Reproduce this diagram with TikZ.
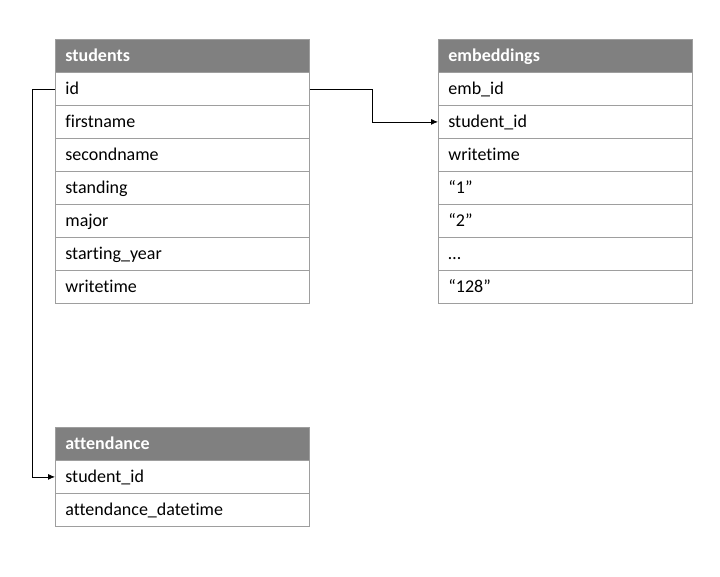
\documentclass[tikz,border=0pt]{standalone}
\usepackage{fontspec}
\setmainfont[Ligatures=NoCommon]{Carlito}
\usetikzlibrary{arrows.meta}
\begin{document}
\begin{tikzpicture}[x=1pt,y=-1pt,
  cell/.style={draw=black!38, line width=0.8pt, fill=white, minimum width=254pt, minimum height=33pt,
    text width=234pt, text height=14.5pt, text depth=2.5pt, align=left, inner xsep=10pt, inner ysep=0pt,
    anchor=north west, font=\fontsize{18}{21}\selectfont},
  head/.style={cell, fill=black!50, text=white, font=\fontsize{18}{21}\selectfont\bfseries},
  conn/.style={line width=0.8pt, draw=black, -{Latex[length=7pt,width=6pt]}}]
\useasboundingbox (0,0) rectangle (720,576);
% students
\node[head] (st)  at (55,39)  {students};
\node[cell] (st1) at (55,72)  {id};
\node[cell] (st2) at (55,105) {firstname};
\node[cell] (st3) at (55,138) {secondname};
\node[cell] (st4) at (55,171) {standing};
\node[cell] (st5) at (55,204) {major};
\node[cell] (st6) at (55,237) {starting\_year};
\node[cell] (st7) at (55,270) {writetime};
% embeddings
\node[head] (em)  at (438,39)  {embeddings};
\node[cell] (em1) at (438,72)  {emb\_id};
\node[cell] (em2) at (438,105) {student\_id};
\node[cell] (em3) at (438,138) {writetime};
\node[cell] (em4) at (438,171) {“1”};
\node[cell] (em5) at (438,204) {“2”};
\node[cell] (em6) at (438,237) {…};
\node[cell] (em7) at (438,270) {“128”};
% attendance
\node[head] (at)  at (55,427) {attendance};
\node[cell] (at1) at (55,460) {student\_id};
\node[cell] (at2) at (55,493) {attendance\_datetime};
% connectors
\draw[conn] (st1.east) -- ++(63,0) |- (em2.west);
\draw[conn] (st1.west) -- ++(-23,0) |- (at1.west);
\end{tikzpicture}
\end{document}
